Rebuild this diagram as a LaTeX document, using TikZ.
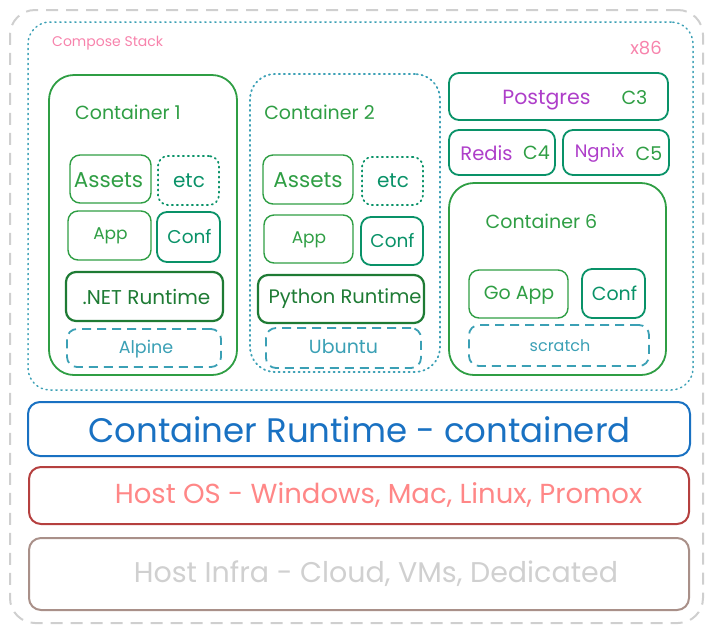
\documentclass[tikz,border=0pt]{standalone}
\usepackage{fontspec}
\setmainfont{Poppins}
\definecolor{ogray}{HTML}{CFCFCF}
\definecolor{teal}{HTML}{3BA0B5}
\definecolor{pink}{HTML}{F783AC}
\definecolor{grn}{HTML}{2F9E44}
\definecolor{tgrn}{HTML}{099268}
\definecolor{dgrn}{HTML}{1E7B34}
\definecolor{purp}{HTML}{AE3EC9}
\definecolor{blu}{HTML}{1971C2}
\definecolor{redb}{HTML}{B5403F}
\definecolor{redt}{HTML}{FF8787}
\definecolor{brnb}{HTML}{A99089}
\definecolor{infrat}{HTML}{D0D0D0}
\tikzset{
  bx/.style={draw, rounded corners=#1, inner sep=0pt, line width=1.4pt},
  bx/.default=10pt,
  dotbox/.style={bx=#1, dash pattern=on 1.2pt off 3.8pt, line cap=round},
  dotbox/.default=10pt,
  dashbox/.style={bx=#1, dash pattern=on 9pt off 6pt},
  dashbox/.default=10pt,
  sz/.style 2 args={minimum width=#1pt, minimum height=#2pt},
  lbl/.style={inner sep=0pt, font=\fontsize{#1}{#1}\selectfont},
  lbl/.default=19,
}
\begin{document}
\begin{tikzpicture}[x=1pt,y=-1pt]
\useasboundingbox (0,0) rectangle (714,633);
% outer frame
\node[bx=25pt, draw=ogray, line width=2pt, dash pattern=on 12pt off 8pt, sz={693}{613}] (outer) at (356.5,316.5) {};
% compose stack
\node[dotbox=22pt, draw=teal, line width=1.5pt, sz={665}{368}] (compose) at (360.5,206) {};
\node[lbl=14, text=pink, anchor=west] (composelbl) at (52,43) {Compose Stack};
\node[lbl=18, text=pink] (x86) at (646,48) {x86};
% container 1
\node[bx=25pt, draw=grn, line width=1.8pt, sz={188}{300}] (c1) at (143,225) {};
\node[lbl, text=grn] (c1t) at (128,112) {Container 1};
\node[bx, draw=grn, sz={81}{48}] (assets1) at (110.5,179) {};
\node[lbl=21.5, text=grn] (assets1t) at (108.5,180) {Assets};
\node[dotbox, draw=tgrn, line width=1.8pt, sz={61}{49}] (etc1) at (188.5,180.5) {};
\node[lbl=20, text=tgrn] (etc1t) at (189,181) {etc};
\node[bx, draw=grn, sz={83}{49}] (app1) at (109.5,235.5) {};
\node[lbl=17, text=grn] (app1t) at (110.5,236) {App};
\node[bx, draw=tgrn, line width=1.8pt, sz={63}{50}] (conf1) at (188.5,237) {};
\node[lbl=18.5, text=tgrn] (conf1t) at (189.5,237) {Conf};
\node[bx, draw=dgrn, line width=2.2pt, sz={157}{49}] (net) at (144.5,296.5) {};
\node[lbl=20, text=dgrn] (nett) at (146.5,297) {.NET Runtime};
\node[dashbox, draw=teal, line width=1.8pt, sz={154}{38}] (alpine) at (144,348) {};
\node[lbl=17.5, text=teal] (alpinet) at (146,349) {Alpine};
% container 2
\node[dotbox=25pt, draw=teal, line width=1.8pt, sz={190}{298}] (c2) at (345,223) {};
\node[lbl, text=grn] (c2t) at (319.5,112) {Container 2};
\node[bx, draw=grn, sz={90}{49}] (assets2) at (308,179.5) {};
\node[lbl=21.5, text=grn] (assets2t) at (308,180) {Assets};
\node[dotbox, draw=tgrn, line width=1.8pt, sz={61}{48}] (etc2) at (392.5,181) {};
\node[lbl=20, text=tgrn] (etc2t) at (393,181) {etc};
\node[bx, draw=grn, sz={89}{48}] (app2) at (308.5,239) {};
\node[lbl=17, text=grn] (app2t) at (309,240) {App};
\node[bx, draw=tgrn, line width=1.8pt, sz={62}{48}] (conf2) at (392,241) {};
\node[lbl=18.5, text=tgrn] (conf2t) at (392.5,241) {Conf};
\node[bx, draw=dgrn, line width=2.2pt, sz={166}{48}] (python) at (341,299) {};
\node[lbl=19.5, text=dgrn] (pythont) at (345,299) {Python Runtime};
\node[dashbox, draw=teal, line width=1.8pt, sz={155}{40}] (ubuntu) at (343.5,348) {};
\node[lbl=19, text=teal] (ubuntut) at (343.5,347) {Ubuntu};
% right column
\node[bx, draw=tgrn, line width=1.8pt, sz={219}{47}] (pg) at (558.5,96.5) {};
\node[lbl=20.5, text=purp] (pgt) at (546.5,100) {Postgres};
\node[lbl=19, text=grn] (c3) at (634.5,98) {C3};
\node[bx, draw=tgrn, line width=1.8pt, sz={106}{45}] (redis) at (502,152.5) {};
\node[lbl=19.5, text=purp] (redist) at (486.5,153) {Redis};
\node[lbl=19, text=grn] (c4) at (536.5,153) {C4};
\node[bx, draw=tgrn, line width=1.8pt, sz={106}{45}] (ngnix) at (616,152.5) {};
\node[lbl=18, text=purp] (ngnixt) at (599.5,153) {Ngnix};
\node[lbl=19, text=grn] (c5) at (649,154) {C5};
% container 6
\node[bx=25pt, draw=grn, line width=1.8pt, sz={217}{192}] (c6) at (557.5,279) {};
\node[lbl, text=grn] (c6t) at (541.5,221) {Container 6};
\node[bx, draw=grn, sz={99}{48}] (goapp) at (518.5,294) {};
\node[lbl=19, text=grn] (goappt) at (519,295) {Go App};
\node[bx, draw=tgrn, line width=1.8pt, sz={63}{49}] (conf6) at (613.5,293.5) {};
\node[lbl=19, text=tgrn] (conf6t) at (614.5,293) {Conf};
\node[dashbox, draw=teal, line width=1.8pt, sz={180}{41}] (scratch) at (559,345.5) {};
\node[lbl=16, text=teal] (scratcht) at (560,346) {scratch};
% layers
\node[bx=12pt, draw=blu, line width=2pt, sz={662}{54}] (cr) at (359,429) {};
\node[lbl=34, text=blu] (crt) at (359.5,430) {Container Runtime - containerd};
\node[bx=12pt, draw=redb, line width=2pt, sz={660}{57}] (hos) at (359,495.5) {};
\node[lbl=27.5, text=redt] (host) at (378.5,495) {Host OS - Windows, Mac, Linux, Promox};
\node[bx=12pt, draw=brnb, line width=2pt, sz={660}{72}] (infra) at (359,574) {};
\node[lbl=28.5, text=infrat] (infrat) at (376,574) {Host Infra - Cloud, VMs, Dedicated};
\end{tikzpicture}
\end{document}
